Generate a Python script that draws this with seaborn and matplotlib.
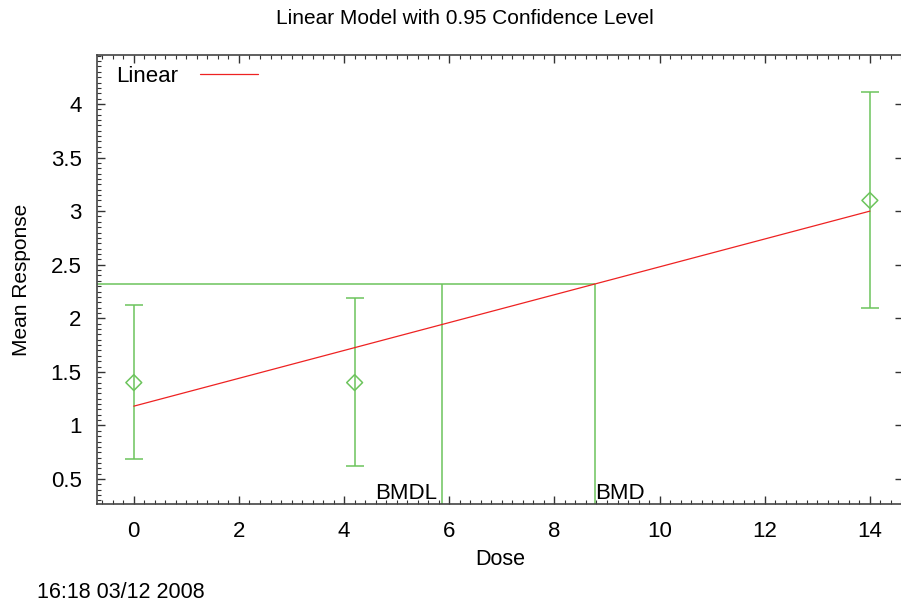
import numpy as np
import pandas as pd
import matplotlib.pyplot as plt
import seaborn as sns
from matplotlib.ticker import MultipleLocator

# observed group means with 95% limits
dose = [0, 4.2, 14]
mean_resp = [1.4, 1.4, 3.1]
lower = [0.69, 0.62, 2.10]
upper = [2.12, 2.19, 4.11]

# fitted linear model
fit_dose = [0, 14]
fit_resp = [1.18, 3.00]

# benchmark dose values
bmr_level = 2.32
bmd = 8.77
bmdl = 5.86

sns.set_theme(style="white")
plt.rcParams['font.family'] = ['Liberation Sans', 'DejaVu Sans']
plt.rcParams['text.color'] = 'black'
plt.rcParams['axes.labelcolor'] = 'black'

green = '#6cc45c'
red = '#ee2222'

df = pd.DataFrame({'dose': dose, 'mean': mean_resp, 'lower': lower, 'upper': upper})
fit = pd.DataFrame({'dose': fit_dose, 'resp': fit_resp})

fig = plt.figure(figsize=(9.01, 6.04), dpi=100)
ax = fig.add_axes([97/901, 1 - 504/604, 806/901, 449/604])

# error bars
ax.errorbar(df['dose'], df['mean'],
            yerr=[df['mean'] - df['lower'], df['upper'] - df['mean']],
            fmt='none', ecolor=green, elinewidth=1.1, capsize=6.5, capthick=1.1, zorder=2)
sns.scatterplot(data=df, x='dose', y='mean', marker='D', s=65, facecolor='none',
                edgecolor=green, linewidth=1.1, ax=ax, zorder=3)

# fitted line
sns.lineplot(data=fit, x='dose', y='resp', color=red, linewidth=0.9, ax=ax,
             label='Linear', zorder=4)

ax.set_xlim(-0.7, 14.63)
ax.set_ylim(0.267, 4.457)

# BMD / BMDL lines
ax.hlines(bmr_level, -0.7, bmd, color=green, linewidth=1.1)
ax.vlines([bmdl, bmd], 0.267, bmr_level, color=green, linewidth=1.1)
ax.text(bmdl - 0.1, 0.27, 'BMDL', ha='right', va='bottom', fontsize=16)
ax.text(bmd, 0.27, 'BMD', ha='left', va='bottom', fontsize=16)

ax.xaxis.set_major_locator(MultipleLocator(2))
ax.xaxis.set_minor_locator(MultipleLocator(0.2))
ax.yaxis.set_minor_locator(MultipleLocator(0.05))
ax.set_yticks([0.5, 1, 1.5, 2, 2.5, 3, 3.5, 4])
ax.set_yticklabels(['0.5', '1', '1.5', '2', '2.5', '3', '3.5', '4'])

ax.tick_params(which='both', direction='in', top=True, bottom=True, left=True, right=False,
               colors='#333333', labelcolor='black')
ax.tick_params(which='major', length=6, width=1, labelsize=16)
ax.tick_params(axis='x', which='major', pad=12)
ax.tick_params(axis='y', which='major', pad=11, right=True)
ax.tick_params(which='minor', length=3, width=0.8)
ax.tick_params(axis='y', which='minor', right=False)

for s in ax.spines.values():
    s.set_color('#444444')
    s.set_linewidth(1.2)

ax.set_xlabel('Dose', fontsize=15.5, labelpad=5)
ax.set_ylabel('Mean Response', fontsize=15, labelpad=14)

leg = ax.legend(loc='upper left', frameon=False, markerfirst=False, fontsize=16,
                handlelength=2.6, handletextpad=1.0, borderaxespad=0.1,
                bbox_to_anchor=(0.01, 1.0))

fig.text(465/901, 1 - 18/604, 'Linear Model with 0.95 Confidence Level',
         ha='center', va='center', fontsize=15)
fig.text(37/901, 1 - 592/604, '16:18 03/12 2008', ha='left', va='center', fontsize=15.5)

fig.savefig('out.png', dpi=100)
